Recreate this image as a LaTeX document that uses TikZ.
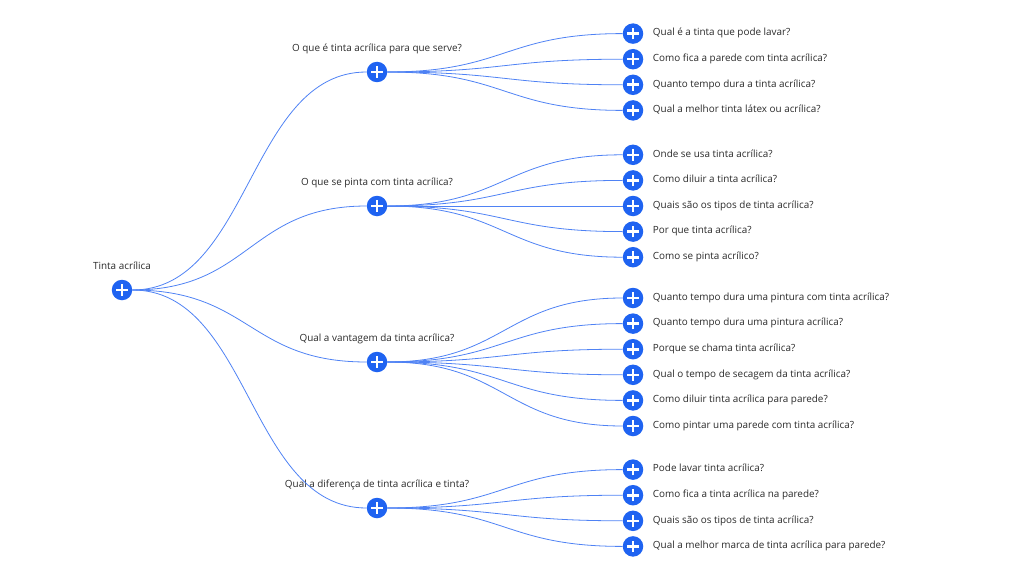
\documentclass[tikz,border=0pt]{standalone}
\usepackage{fontspec}
\setmainfont{Open Sans}
\usetikzlibrary{positioning}
\definecolor{plusblue}{HTML}{1F63F1}
\definecolor{linkblue}{HTML}{4F82F4}
\definecolor{labelgray}{HTML}{2A2A2A}

\begin{document}
\begin{tikzpicture}[x=1pt,y=-1pt,on grid,node distance=25.6pt,
  topic/.style={circle,fill=plusblue,minimum size=20.5pt,inner sep=0pt,
    path picture={\draw[white,line width=2.6pt]
      ([xshift=-5.8pt]path picture bounding box.center) -- ([xshift=5.8pt]path picture bounding box.center)
      ([yshift=-5.8pt]path picture bounding box.center) -- ([yshift=5.8pt]path picture bounding box.center);}},
  up/.style={topic,label={[label distance=4pt]above:#1}},
  leaf/.style={topic,label={[label distance=6pt]right:#1}},
  every label/.style={labelgray,font=\fontsize{9.9}{12}\selectfont,text height=7.5pt,text depth=3pt},
  link/.style={linkblue,line width=0.8pt,to path={.. controls +(118,0) and +(-118,0) .. (\tikztotarget)}}]
  \useasboundingbox (0,0) rectangle (1024,575);

  \node[up={Tinta acrílica}] (r) at (122,290) {};

  \node[up={O que é tinta acrílica para que serve?}] (a) [above right=218pt and 255pt of r] {};
  \node[up={O que se pinta com tinta acrílica?}]     (b) [above right=84pt and 255pt of r] {};
  \node[up={Qual a vantagem da tinta acrílica?}]     (c) [below right=72pt and 255pt of r] {};
  \node[up={Qual a diferença de tinta acrílica e tinta?}] (d) [below right=218pt and 255pt of r] {};

  \node[leaf={Qual é a tinta que pode lavar?}]         (a_1) [above right=38.4pt and 256pt of a] {};
  \node[leaf={Como fica a parede com tinta acrílica?}] (a_2) [below=of a_1] {};
  \node[leaf={Quanto tempo dura a tinta acrílica?}]    (a_3) [below=of a_2] {};
  \node[leaf={Qual a melhor tinta látex ou acrílica?}] (a_4) [below=of a_3] {};

  \node[leaf={Onde se usa tinta acrílica?}]            (b_1) [above right=51.2pt and 256pt of b] {};
  \node[leaf={Como diluir a tinta acrílica?}]          (b_2) [below=of b_1] {};
  \node[leaf={Quais são os tipos de tinta acrílica?}]  (b_3) [below=of b_2] {};
  \node[leaf={Por que tinta acrílica?}]                (b_4) [below=of b_3] {};
  \node[leaf={Como se pinta acrílico?}]                (b_5) [below=of b_4] {};

  \node[leaf={Quanto tempo dura uma pintura com tinta acrílica?}] (c_1) [above right=64pt and 256pt of c] {};
  \node[leaf={Quanto tempo dura uma pintura acrílica?}]     (c_2) [below=of c_1] {};
  \node[leaf={Porque se chama tinta acrílica?}]             (c_3) [below=of c_2] {};
  \node[leaf={Qual o tempo de secagem da tinta acrílica?}]  (c_4) [below=of c_3] {};
  \node[leaf={Como diluir tinta acrílica para parede?}]     (c_5) [below=of c_4] {};
  \node[leaf={Como pintar uma parede com tinta acrílica?}]  (c_6) [below=of c_5] {};

  \node[leaf={Pode lavar tinta acrílica?}]                  (d_1) [above right=38.4pt and 256pt of d] {};
  \node[leaf={Como fica a tinta acrílica na parede?}]       (d_2) [below=of d_1] {};
  \node[leaf={Quais são os tipos de tinta acrílica?}]       (d_3) [below=of d_2] {};
  \node[leaf={Qual a melhor marca de tinta acrílica para parede?}] (d_4) [below=of d_3] {};

  \path[link] (r.east) edge (a.west) edge (b.west) edge (c.west) edge (d.west)
              (a.east) edge (a_1.west) edge (a_2.west) edge (a_3.west) edge (a_4.west)
              (b.east) edge (b_1.west) edge (b_2.west) edge (b_3.west) edge (b_4.west) edge (b_5.west)
              (c.east) edge (c_1.west) edge (c_2.west) edge (c_3.west) edge (c_4.west) edge (c_5.west) edge (c_6.west)
              (d.east) edge (d_1.west) edge (d_2.west) edge (d_3.west) edge (d_4.west);
\end{tikzpicture}
\end{document}
